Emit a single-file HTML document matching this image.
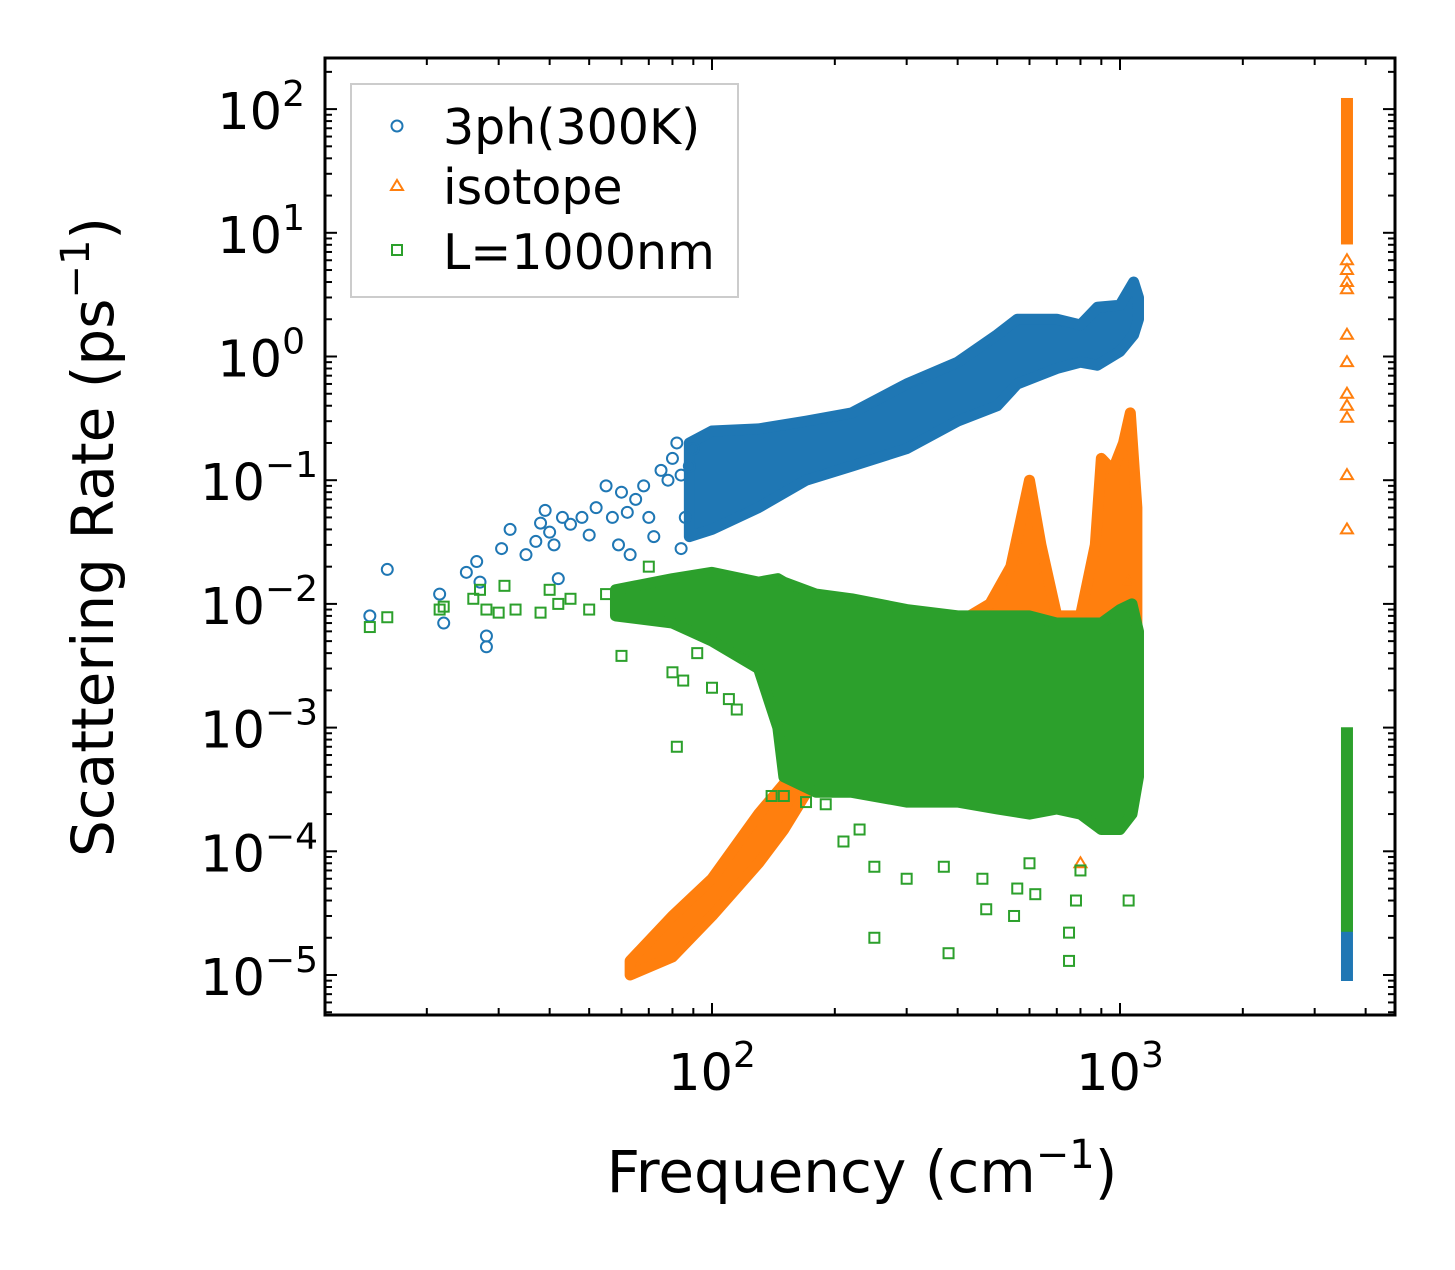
<!DOCTYPE html>
<html><head><meta charset="utf-8"><style>
body{margin:0;background:#fff}
svg text{font-family:"DejaVu Sans","Liberation Sans",sans-serif;fill:#000}
</style></head><body>
<svg id="chart" width="1455" height="1265" viewBox="0 0 1455 1265" xmlns="http://www.w3.org/2000/svg">
<g id="marks"></g>
<g id="axes"></g>
<text x="862" y="1192" font-size="58" text-anchor="middle">Frequency (cm<tspan dy="-24" font-size="40">−1</tspan><tspan dy="24">)</tspan></text>
<text transform="translate(113,537) rotate(-90)" font-size="58" text-anchor="middle">Scattering Rate (ps<tspan dy="-24" font-size="40">−1</tspan><tspan dy="24">)</tspan></text>
<g>
<rect x="351" y="84" width="387" height="213" fill="#fff" stroke="#ccc" stroke-width="2"/>
<circle cx="397" cy="126" r="5.5" fill="none" stroke="#1f77b4" stroke-width="2"/>
<text x="443" y="144" font-size="49">3ph(300K)</text>
<path d="M397,180 L403,190 L391,190 Z" fill="none" stroke="#ff7f0e" stroke-width="2"/>
<text x="443" y="204" font-size="49">isotope</text>
<rect x="392" y="245" width="10" height="10" fill="none" stroke="#2ca02c" stroke-width="2"/>
<text x="443" y="269" font-size="49">L=1000nm</text>
</g>
</svg>
<script>
// Dense band envelopes: [freq, low, high]
const blueBand=[[88,0.035,0.2],[100,0.04,0.25],[130,0.06,0.26],[170,0.1,0.3],[220,0.13,0.35],[300,0.18,0.6],[400,0.3,0.9],[500,0.4,1.5],[560,0.6,2],[700,0.8,2],[800,0.9,1.8],[880,0.85,2.5],[1000,1.1,2.6],[1080,1.5,4],[1110,2,3]];
const blueSolo=[[14.5,0.008],[16,0.019],[21.5,0.012],[22,0.007],[25,0.018],[26.5,0.022],[27,0.015],[28,0.0055],[28,0.0045],[30.5,0.028],[32,0.04],[35,0.025],[37,0.032],[38,0.045],[39,0.057],[40,0.038],[41,0.03],[42,0.016],[43,0.05],[45,0.044],[48,0.05],[50,0.036],[52,0.06],[55,0.09],[57,0.05],[59,0.03],[60,0.08],[62,0.055],[63,0.025],[65,0.07],[68,0.09],[70,0.05],[72,0.035],[75,0.12],[78,0.1],[80,0.15],[82,0.2],[84,0.11],[84,0.028],[86,0.05],[88,0.13],[90,0.18]];
const blueCluster=[[3600,1e-5,3e-5]];
const orangeBand=[[63,1e-5,1.3e-5],[80,1.4e-5,3e-5],[100,3e-5,6e-5],[130,8e-5,2e-4],[150,1.5e-4,3.5e-4],[180,4e-4,1.2e-3],[210,7e-4,2e-3],[300,1e-3,3e-3],[400,1e-3,7e-3],[480,1e-3,1e-2],[540,1e-3,0.02],[600,1e-3,0.1],[640,1e-3,0.03],[700,1e-3,0.008],[800,1e-3,0.008],[870,1e-3,0.03],[900,1e-3,0.15],[960,1e-3,0.12],[1020,1e-3,0.2],[1060,1e-3,0.35],[1100,1e-3,0.06]];
const orangeCluster=[[3600,9,110]];
const orangeSolo=[[3600,6],[3600,5],[3600,4],[3600,3.5],[3600,1.5],[3600,0.9],[3600,0.5],[3600,0.4],[3600,0.32],[3600,0.11],[3600,0.04],[800,8e-5],[1050,0.015]];
const greenBand=[[58,0.008,0.013],[80,0.007,0.016],[100,0.005,0.018],[130,0.003,0.015],[145,0.001,0.016],[150,4e-4,0.015],[180,3e-4,0.012],[220,3e-4,0.011],[300,2.5e-4,0.009],[400,2.5e-4,0.008],[500,2.2e-4,0.008],[600,2e-4,0.008],[700,2.2e-4,0.007],[800,2e-4,0.007],[900,1.5e-4,0.007],[1000,1.5e-4,0.009],[1070,2e-4,0.01],[1110,4e-4,0.006]];
const greenSolo=[[14.5,0.0065],[16,0.0078],[21.5,0.009],[22,0.0095],[26,0.011],[27,0.013],[28,0.009],[30,0.0085],[31,0.014],[33,0.009],[38,0.0085],[40,0.013],[42,0.01],[45,0.011],[50,0.009],[55,0.012],[60,0.0038],[70,0.02],[80,0.0028],[82,0.0007],[85,0.0024],[92,0.004],[100,0.0021],[110,0.0017],[115,0.0014],[140,0.00028],[150,0.00028],[170,0.00025],[190,0.00024],[210,0.00012],[230,0.00015],[250,7.5e-5],[250,2e-5],[300,6e-5],[370,7.5e-5],[380,1.5e-5],[460,6e-5],[470,3.4e-5],[550,3e-5],[560,5e-5],[600,8e-5],[620,4.5e-5],[750,1.3e-5],[750,2.2e-5],[780,4e-5],[800,7e-5],[1050,4e-5]];
const greenCluster=[[3600,2.5e-5,9e-4]];

const X0=325,X1=1395,Y0=58,Y1=1015;
const xs=f=>712+408*(Math.log10(f)-2);
const ys=v=>975-123.7*(Math.log10(v)+5);
const NS="http://www.w3.org/2000/svg";
const marks=document.getElementById('marks'),axes=document.getElementById('axes');
function mk(tag,attrs,parent){const e=document.createElementNS(NS,tag);for(const k in attrs)e.setAttribute(k,attrs[k]);parent.appendChild(e);return e;}
const C={b:'#1f77b4',o:'#ff7f0e',g:'#2ca02c'};
function band(arr,col,name){
  let d='M'+arr.map(p=>xs(p[0])+','+ys(p[2])).join(' L')+' L'+arr.slice().reverse().map(p=>xs(p[0])+','+ys(p[1])).join(' L')+' Z';
  const e=mk('path',{d:d,fill:col,stroke:col,'stroke-width':11,'stroke-linejoin':'round'},marks);
  
  
}
function cluster(arr,col,name){arr.forEach(p=>{
  const e=mk('rect',{x:xs(p[0])-6,y:ys(p[2])-6,width:12,height:ys(p[1])-ys(p[2])+12,fill:col},marks);
  
  
});}
function pts(arr,col,type,name){arr.forEach(p=>{
  const x=xs(p[0]),y=ys(p[1]);let e;
  if(type==='c')e=mk('circle',{cx:x,cy:y,r:5.5,fill:'none',stroke:col,'stroke-width':2},marks);
  else if(type==='t')e=mk('path',{d:`M${x},${y-6} L${x+6},${y+4} L${x-6},${y+4} Z`,fill:'none',stroke:col,'stroke-width':2},marks);
  else e=mk('rect',{x:x-5,y:y-5,width:10,height:10,fill:'none',stroke:col,'stroke-width':2},marks);
  
  
});}
band(blueBand,C.b,'3ph-band');pts(blueSolo,C.b,'c','3ph-point');cluster(blueCluster,C.b,'3ph-cluster');
band(orangeBand,C.o,'isotope-band');cluster(orangeCluster,C.o,'isotope-cluster');pts(orangeSolo,C.o,'t','isotope-point');
band(greenBand,C.g,'boundary-band');pts(greenSolo,C.g,'s','boundary-point');cluster(greenCluster,C.g,'boundary-cluster');

const frame=mk('rect',{x:X0,y:Y0,width:X1-X0,height:Y1-Y0,fill:'none',stroke:'#000','stroke-width':3},axes);


for(let e=1;e<=3;e++)for(let m=1;m<=9;m++){
  const f=m*Math.pow(10,e),x=xs(f);if(x<X0||x>X1)continue;const L=m===1?12:7;
  mk('line',{x1:x,y1:Y1,x2:x,y2:Y1-L,stroke:'#000','stroke-width':2},axes);
  mk('line',{x1:x,y1:Y0,x2:x,y2:Y0+L,stroke:'#000','stroke-width':2},axes);
}
const xTicks=[2,3];
xTicks.forEach(e=>{const t=mk('text',{x:xs(Math.pow(10,e)),y:1090,'font-size':51,'text-anchor':'middle'},axes);
  
  
  t.innerHTML='10<tspan dy="-23" font-size="36">'+e+'</tspan>';});
for(let e=-6;e<=2;e++)for(let m=1;m<=9;m++){
  const v=m*Math.pow(10,e),y=ys(v);if(y<Y0||y>Y1)continue;const L=m===1?12:7;
  mk('line',{x1:X0,y1:y,x2:X0+L,y2:y,stroke:'#000','stroke-width':2},axes);
  mk('line',{x1:X1,y1:y,x2:X1-L,y2:y,stroke:'#000','stroke-width':2},axes);
}
const yTicks=[-5,-4,-3,-2,-1,0,1,2];
yTicks.forEach(e=>{const t=mk('text',{x:e<0?318:305,y:ys(Math.pow(10,e))+20,'font-size':51,'text-anchor':'end'},axes);
  
  
  t.innerHTML='10<tspan dy="-23" font-size="36">'+(e<0?'−'+(-e):e)+'</tspan>';});
</script>
</body></html>
